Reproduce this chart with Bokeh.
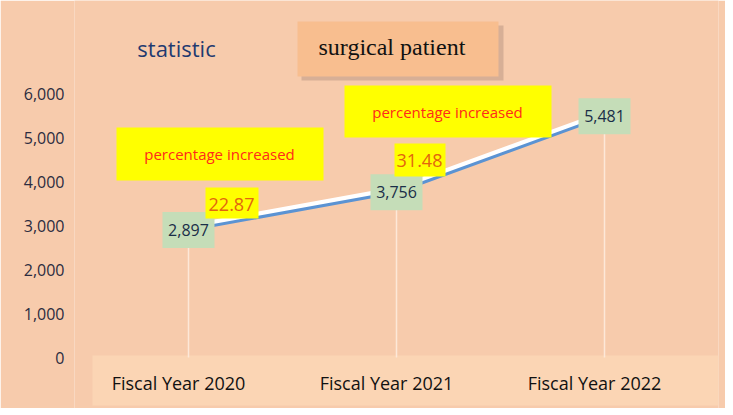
from bokeh.plotting import figure
from bokeh.models import FactorRange, Range1d, NumeralTickFormatter, FixedTicker, BoxAnnotation, Label, ColumnDataSource
from bokeh.transform import dodge
from bokeh.embed import file_html
from bokeh.resources import INLINE
from bokeh.core.properties import value

categories = ["Fiscal Year 2020", "Fiscal Year 2021", "Fiscal Year 2022"]
patients = [2897, 3756, 5481]
patient_labels = ["2,897", "3,756", "5,481"]
pct_increase = ["22.87", "31.48"]
y_ticks = [0, 1000, 2000, 3000, 4000, 5000, 6000]
title_text = "statistic"
box_title = "surgical patient"
pct_caption = "percentage increased"

BG = "#F7CBAC"
FONT = "Open Sans"

W, H = 725, 408
FL = 74          # frame left (canvas px)
def sx(px):
    return px - FL
def sy(py):
    return H - py

src = ColumnDataSource(dict(cat=categories, val=patients, lab=patient_labels,
                            zero=[0] * len(patients),
                            cat_y=[-590] * len(categories)))

p = figure(width=W, height=H, title=None,
           x_range=FactorRange(*categories, range_padding=0.032),
           y_range=Range1d(-1159, 8114),
           x_axis_location=None,
           output_backend="svg", toolbar_location=None,
           min_border_left=FL, min_border_right=7,
           min_border_top=0, min_border_bottom=0)
p.background_fill_color = BG
p.border_fill_color = BG
p.outline_line_color = None
p.xgrid.grid_line_color = None
p.ygrid.grid_line_color = None

# light band behind category labels
p.add_layout(BoxAnnotation(left=sx(92), right=sx(718), top=sy(355), bottom=sy(405),
                           left_units="screen", right_units="screen",
                           top_units="screen", bottom_units="screen",
                           fill_color="#FBD5B4", fill_alpha=1, line_color=None,
                           level="underlay"))

# y axis
p.yaxis.ticker = FixedTicker(ticks=y_ticks)
p.yaxis.formatter = NumeralTickFormatter(format="0,0")
p.yaxis.axis_line_color = None
p.yaxis.major_tick_line_color = None
p.yaxis.minor_tick_line_color = None
p.yaxis.major_tick_out = 0
p.yaxis.minor_tick_out = 0
p.yaxis.major_label_standoff = 10
p.yaxis.major_label_text_font = FONT
p.yaxis.major_label_text_font_size = "16px"
p.yaxis.major_label_text_color = "#2c2c40"

# category labels
p.text(x="cat", y="cat_y", text="cat", source=src, x_offset=-10,
       text_align="center", text_baseline="middle",
       text_font=value(FONT), text_font_size="18px", text_color="#111111")

# drop lines
p.segment(x0="cat", y0="zero", x1="cat", y1="val", source=src,
          line_color="#FDE8D8", line_width=1.5)

# line with white highlight
p.line(x="cat", y=dodge("val", 75), source=src, line_color="white", line_width=5)
p.line(x="cat", y="val", source=src, line_color="#5B93D3", line_width=3)

# data labels
p.rect(x="cat", y="val", width=52, height=36, width_units="screen", height_units="screen",
       source=src, fill_color="#C5DDB8", line_color=None)
p.text(x="cat", y="val", text="lab", source=src, text_align="center", text_baseline="middle",
       text_font=value(FONT), text_font_size="16px", text_color="#1A2E48")

def box(l, r, t, b, color, alpha=1.0):
    p.add_layout(BoxAnnotation(left=sx(l), right=sx(r), top=sy(t), bottom=sy(b),
                               left_units="screen", right_units="screen",
                               top_units="screen", bottom_units="screen",
                               fill_color=color, fill_alpha=alpha, line_color=None))

def label(text, cx, cy, color, size, font=FONT, align="center"):
    p.add_layout(Label(x=sx(cx), y=sy(cy), x_units="screen", y_units="screen", text=text,
                       text_align=align, text_baseline="middle", text_color=color,
                       text_font=font, text_font_size=size))

# title box with shadow
box(301, 503, 25, 80, "#B08D7C", 0.45)
box(297, 498, 21, 76, "#F8BE8F")
label(box_title, 318, 46, "#111111", "24px", font="Liberation Serif", align="left")

label(title_text, 176, 47, "#1F3A70", "22px")

# percentage boxes
box(116, 323, 127, 180, "#FFFF00")
label(pct_caption, 219, 153, "#FF2A1A", "15px")
box(344, 551, 85, 137, "#FFFF00")
label(pct_caption, 447, 111, "#FF2A1A", "15px")
box(205, 258, 187, 218, "#FFFF00")
label(pct_increase[0], 231, 204, "#E3660E", "18px")
box(394, 445, 143, 176, "#FFFF00")
label(pct_increase[1], 419, 160, "#E3660E", "18px")

open("out.html", "w").write(file_html(p, INLINE))
